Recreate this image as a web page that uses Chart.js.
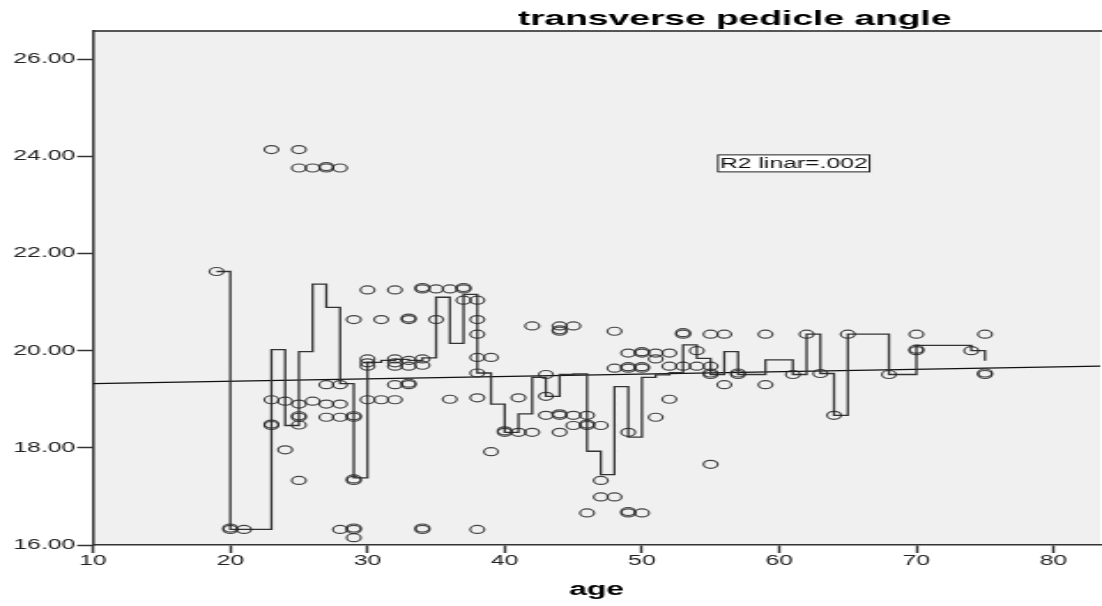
<!DOCTYPE html>
<html>
<head>
<meta charset="utf-8">
<script src="https://cdn.jsdelivr.net/npm/chart.js@4.4.1/dist/chart.umd.min.js"></script>
<style>
  html, body { margin: 0; padding: 0; background: #ffffff; overflow: hidden; }
  #wrap { position: absolute; left: 0; top: 0; width: 623px; height: 606px;
          transform: scaleX(1.7689); transform-origin: 0 0; }
  canvas { display: block; }
</style>
</head>
<body>
<div id="wrap"><canvas id="c" width="623" height="606"></canvas></div>
<script>
// ---------- data ----------
const chartTitle = "transverse pedicle angle";
const xTitle = "age";
const fitLabel = "R2 linar=.002";

const xTicks = [10, 20, 30, 40, 50, 60, 70, 80];
const yTicks = [16, 18, 20, 22, 24, 26];

const ages = [
  19,
  20, 20,
  21,
  23, 23, 23, 23,
  24, 24,
  25, 25, 25, 25, 25, 25, 25,
  26, 26,
  27, 27, 27, 27, 27,
  28, 28, 28, 28, 28,
  29, 29, 29, 29, 29, 29, 29, 29,
  30, 30, 30, 30, 30,
  31, 31,
  32, 32, 32, 32, 32, 32,
  33, 33, 33, 33, 33, 33,
  34, 34, 34, 34, 34, 34,
  35, 35,
  36, 36,
  37, 37, 37,
  38, 38, 38, 38, 38, 38, 38,
  39, 39,
  40, 40,
  41, 41,
  42, 42,
  43, 43, 43,
  44, 44, 44, 44, 44, 44,
  45, 45, 45,
  46, 46, 46, 46,
  47, 47, 47,
  48, 48, 48,
  49, 49, 49, 49, 49, 49,
  50, 50, 50, 50, 50,
  51, 51, 51,
  52, 52, 52,
  53, 53, 53,
  54, 54,
  55, 55, 55, 55, 55,
  56, 56,
  57, 57,
  59, 59,
  61,
  62,
  63,
  64,
  65,
  68,
  70, 70, 70,
  74,
  75, 75, 75
];
const angles = [
  21.63,
  16.32, 16.35,
  16.32,
  24.14, 18.99, 18.46, 18.49,
  18.96, 17.96,
  24.14, 23.76, 18.90, 18.63, 18.66, 18.47, 17.33,
  23.76, 18.96,
  23.76, 23.79, 19.30, 18.90, 18.63,
  23.76, 19.30, 18.90, 18.63, 16.32,
  20.64, 18.63, 18.66, 17.33, 17.36, 16.32, 16.35, 16.15,
  21.25, 19.83, 19.75, 19.68, 18.99,
  20.64, 18.99,
  21.25, 19.83, 19.75, 19.68, 19.30, 18.99,
  20.64, 20.67, 19.80, 19.68, 19.30, 19.33,
  21.27, 21.30, 19.83, 19.70, 16.32, 16.35,
  21.27, 20.64,
  21.27, 19.00,
  21.27, 21.30, 21.04,
  21.04, 20.64, 20.34, 19.86, 19.54, 19.03, 16.32,
  19.86, 17.92,
  18.32, 18.35,
  19.03, 18.32,
  20.51, 18.32,
  19.51, 19.06, 18.67,
  20.51, 20.40, 20.43, 18.67, 18.70, 18.32,
  20.51, 18.67, 18.46,
  18.67, 18.46, 18.49, 16.66,
  18.46, 17.33, 16.99,
  20.40, 19.64, 16.99,
  19.95, 19.64, 19.67, 18.32, 16.66, 16.69,
  19.95, 19.98, 19.64, 19.67, 16.66,
  19.95, 19.83, 18.63,
  19.95, 19.68, 19.00,
  20.34, 20.37, 19.68,
  20.00, 19.68,
  20.34, 19.68, 19.51, 19.54, 17.66,
  20.34, 19.30,
  19.51, 19.54,
  20.34, 19.30,
  19.51,
  20.34,
  19.53,
  18.67,
  20.34,
  19.51,
  20.34, 20.00, 20.03,
  20.00,
  20.34, 19.51, 19.54
];

// step line through the per-age means (as drawn in the reference)
const stepAges = [19,20,21,23,24,25,26,27,28,29,30,31,32,33,34,35,36,37,38,39,40,41,42,43,44,45,46,47,48,49,50,51,52,53,54,55,56,57,59,61,62,63,64,65,68,70,74,75];
const stepMeans = [21.63,16.32,16.32,20.02,18.46,19.98,21.37,20.89,19.32,17.38,
                   19.76,19.80,19.82,19.80,19.85,21.10,20.15,21.16,19.54,18.90,
                   18.32,18.70,19.45,19.06,19.51,19.52,17.93,17.45,19.26,18.22,
                   19.45,19.50,19.55,20.12,19.84,19.51,19.98,19.51,
                   19.81,19.51,20.34,19.53,18.67,20.34,19.51,20.11,20.00,19.79];

// linear fit line end points
const fitAges = [10, 83.4];
const fitValues = [19.32, 19.68];

// ---------- chart ----------
const FONT = '"Liberation Sans", Arial, Helvetica, sans-serif';

const pts = ages.map((a, i) => ({ x: a, y: angles[i] }));
const stepPts = stepAges.map((a, i) => ({ x: a, y: stepMeans[i] }));
const fitPts = fitAges.map((a, i) => ({ x: a, y: fitValues[i] }));

const decorPlugin = {
  id: 'decor',
  beforeDraw(chart) {
    const { ctx, chartArea: ca } = chart;
    ctx.save();
    ctx.fillStyle = '#f0f0f0';
    ctx.fillRect(ca.left, ca.top, ca.right - ca.left, ca.bottom - ca.top);
    ctx.strokeStyle = '#555555';
    ctx.lineWidth = 2;
    ctx.beginPath();
    ctx.moveTo(ca.left, ca.top);
    ctx.lineTo(chart.width, ca.top);
    ctx.stroke();
    ctx.restore();
  },
  afterDraw(chart) {
    const { ctx } = chart;
    const xs = chart.scales.x, ys = chart.scales.y;
    ctx.save();
    // title
    ctx.fillStyle = '#000000';
    ctx.font = 'bold 21px ' + FONT;
    ctx.textAlign = 'left';
    ctx.textBaseline = 'alphabetic';
    ctx.fillText(chartTitle, 292.7, 25);
    // R2 label box
    ctx.font = '14px ' + FONT;
    const w = ctx.measureText(fitLabel).width + 2;
    const bx = xs.getPixelForValue(55.54);
    const by = ys.getPixelForValue(24.03);
    ctx.fillStyle = '#ffffff';
    ctx.fillRect(bx, by, w, 17);
    ctx.strokeStyle = '#222222';
    ctx.lineWidth = 1;
    ctx.strokeRect(bx, by, w, 17);
    ctx.fillStyle = '#111111';
    ctx.textBaseline = 'alphabetic';
    ctx.fillText(fitLabel, bx + 1, by + 13.5);
    ctx.restore();
  }
};

new Chart(document.getElementById('c'), {
  type: 'scatter',
  data: {
    datasets: [
      {
        type: 'line',
        data: fitPts,
        borderColor: '#111111',
        borderWidth: 1.2,
        pointRadius: 0,
        fill: false,
        order: 3
      },
      {
        type: 'line',
        data: stepPts,
        stepped: 'before',
        borderColor: '#333333',
        borderWidth: 1.3,
        pointRadius: 0,
        fill: false,
        order: 2
      },
      {
        type: 'scatter',
        data: pts,
        showLine: false,
        pointStyle: 'circle',
        pointRadius: 4,
        pointBorderWidth: 1.2,
        borderColor: 'rgba(40,40,40,0.85)',
        backgroundColor: 'rgba(0,0,0,0)',
        order: 1
      }
    ]
  },
  options: {
    responsive: false,
    animation: false,
    events: [],
    layout: { autoPadding: false, padding: { top: 31, right: 1, left: 0, bottom: 0 } },
    plugins: {
      legend: { display: false },
      tooltip: { enabled: false },
      title: { display: false }
    },
    scales: {
      x: {
        type: 'linear',
        min: 10,
        max: 83.4,
        afterFit(s) { s.height = 61; },
        afterBuildTicks(s) { s.ticks = xTicks.map(v => ({ value: v })); },
        ticks: {
          autoSkip: false, maxRotation: 0, padding: 0,
          color: '#222222',
          font: { family: FONT, size: 14 },
          callback: v => String(v)
        },
        grid: { drawOnChartArea: false, drawTicks: true, tickLength: 8, tickColor: '#333333', tickWidth: 1.5 },
        border: { display: true, color: '#333333', width: 1.5 },
        title: {
          display: true, text: xTitle, color: '#000000',
          font: { family: FONT, size: 18, weight: 'bold' },
          padding: { top: 0, bottom: 5 }
        }
      },
      y: {
        type: 'linear',
        min: 16,
        max: 26.58,
        afterFit(s) { s.width = 52.6; },
        afterBuildTicks(s) { s.ticks = yTicks.map(v => ({ value: v })); },
        ticks: {
          autoSkip: false, padding: 1,
          color: '#222222',
          font: { family: FONT, size: 14 },
          callback: v => Number(v).toFixed(2)
        },
        grid: { drawOnChartArea: false, drawTicks: true, tickLength: 9, tickColor: '#333333', tickWidth: 1.5 },
        border: { display: true, color: '#333333', width: 1.5 }
      }
    }
  },
  plugins: [decorPlugin]
});
</script>
</body>
</html>
